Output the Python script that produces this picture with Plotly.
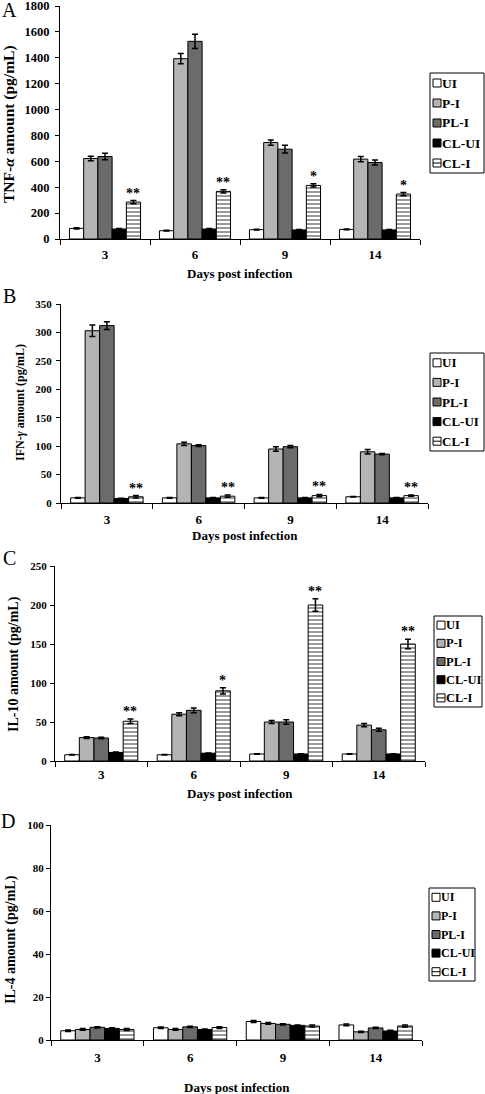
import plotly.graph_objects as go

W, H = 485, 1094
FONT = "Liberation Serif"

days = ["3", "6", "9", "14"]
groups = ["UI", "P-I", "PL-I", "CL-UI", "CL-I"]

# ---- Panel A: TNF-alpha (pg/mL)
tnf_UI = [82, 64, 72, 74]
tnf_PI = [622, 1393, 745, 617]
tnf_PLI = [637, 1527, 694, 591]
tnf_CLUI = [77, 77, 70, 70]
tnf_CLI = [285, 368, 414, 347]
tnf_UI_err = [4, 3, 3, 3]
tnf_PI_err = [18, 40, 20, 20]
tnf_PLI_err = [25, 55, 30, 20]
tnf_CLUI_err = [4, 4, 3, 3]
tnf_CLI_err = [12, 12, 12, 12]
tnf_sig = ["**", "**", "*", "*"]

# ---- Panel B: IFN-gamma (pg/mL)
ifn_UI = [9, 9, 9, 11]
ifn_PI = [303, 104, 95, 90]
ifn_PLI = [312, 101, 99, 86]
ifn_CLUI = [8, 9, 9, 9]
ifn_CLI = [11, 12, 13, 13]
ifn_UI_err = [0.5, 0.5, 0.5, 0.5]
ifn_PI_err = [10, 3, 4, 4]
ifn_PLI_err = [7, 1.5, 2, 1]
ifn_CLUI_err = [0.5, 0.5, 0.5, 0.5]
ifn_CLI_err = [2, 2, 2, 1]
ifn_sig = ["**", "**", "**", "**"]

# ---- Panel C: IL-10 (pg/mL)
il10_UI = [8, 8, 9, 9]
il10_PI = [30, 60, 50, 46]
il10_PLI = [29.5, 65, 50, 40]
il10_CLUI = [11, 10, 9, 9]
il10_CLI = [51, 90, 200, 150]
il10_UI_err = [0.4, 0.4, 0.4, 0.4]
il10_PI_err = [1, 2, 2, 2]
il10_PLI_err = [1, 3, 3, 2]
il10_CLUI_err = [0.5, 0.4, 0.4, 0.4]
il10_CLI_err = [3, 4, 8, 6]
il10_sig = ["**", "*", "**", "**"]

# ---- Panel D: IL-4 (pg/mL)
il4_UI = [4.3, 5.7, 8.6, 7.0]
il4_PI = [4.9, 4.9, 7.7, 3.8]
il4_PLI = [5.9, 6.1, 7.3, 5.6]
il4_CLUI = [5.4, 4.9, 6.8, 4.2]
il4_CLI = [4.9, 5.8, 6.5, 6.5]
il4_UI_err = [0.3, 0.3, 0.5, 0.4]
il4_PI_err = [0.4, 0.4, 0.4, 0.3]
il4_PLI_err = [0.3, 0.3, 0.3, 0.3]
il4_CLUI_err = [0.3, 0.2, 0.2, 0.3]
il4_CLI_err = [0.5, 0.4, 0.5, 0.5]
il4_sig = ["", "", "", ""]

panels = [
    dict(letter="A", ytitle="TNF-<i>α</i> amount (pg/mL)", ymax=1800, dtick=200,
         vals=[tnf_UI, tnf_PI, tnf_PLI, tnf_CLUI, tnf_CLI],
         errs=[tnf_UI_err, tnf_PI_err, tnf_PLI_err, tnf_CLUI_err, tnf_CLI_err],
         sig=tnf_sig,
         box=(60, 6, 420, 239), tfs=12.5, ytfs=15.5, ytx=9, yty=124,
         xso=3, yso=3,
         xtitle_y=273, letter_xy=(9, 10), leg=(430, 73, 484, 173), lfs=13.5),
    dict(letter="B", ytitle="IFN-<i>γ</i> amount (pg/mL)", ymax=350, dtick=50,
         vals=[ifn_UI, ifn_PI, ifn_PLI, ifn_CLUI, ifn_CLI],
         errs=[ifn_UI_err, ifn_PI_err, ifn_PLI_err, ifn_CLUI_err, ifn_CLI_err],
         sig=ifn_sig,
         box=(61, 304, 428, 503), tfs=11, ytfs=12, ytx=20, yty=403,
         xso=4, yso=2,
         xtitle_y=536, letter_xy=(9, 296), leg=(430, 353, 484, 451), lfs=13),
    dict(letter="C", ytitle="IL-10 amount (pg/mL)", ymax=250, dtick=50,
         vals=[il10_UI, il10_PI, il10_PLI, il10_CLUI, il10_CLI],
         errs=[il10_UI_err, il10_PI_err, il10_PLI_err, il10_CLUI_err, il10_CLI_err],
         sig=il10_sig,
         box=(55, 566, 425, 761), tfs=11, ytfs=14, ytx=14, yty=664,
         xso=1, yso=1,
         xtitle_y=793, letter_xy=(9, 558), leg=(434, 616, 482, 707), lfs=12.5),
    dict(letter="D", ytitle="IL-4 amount (pg/mL)", ymax=100, dtick=20,
         vals=[il4_UI, il4_PI, il4_PLI, il4_CLUI, il4_CLI],
         errs=[il4_UI_err, il4_PI_err, il4_PLI_err, il4_CLUI_err, il4_CLI_err],
         sig=il4_sig,
         box=(51, 825, 422, 1040), tfs=11, ytfs=14, ytx=11, yty=940,
         xso=5, yso=0,
         xtitle_y=1087, letter_xy=(8, 821), leg=(429, 888, 475, 981), lfs=12),
]

fills = ["white", "#b4b4b4", "#6b6b6b", "black", "white"]
BARGAP = 0.21

fig = go.Figure()
annotations = []
shapes = []

for k, p in enumerate(panels):
    sfx = "" if k == 0 else str(k + 1)
    xa, ya = "x" + sfx, "y" + sfx
    x0, ytop, x1, ybot = p["box"]
    for g, fill, v, e in zip(groups, fills, p["vals"], p["errs"]):
        marker = dict(color=fill, line=dict(color="black", width=1))
        if g == "CL-I":
            marker["pattern"] = dict(shape="-", fgcolor="black", bgcolor="white",
                                     size=4, solidity=0.4, fillmode="overlay")
        fig.add_trace(go.Bar(
            x=days, y=v, name=g, marker=marker, showlegend=False,
            error_y=dict(type="data", array=e, color="black", thickness=1.5, width=3),
            xaxis=xa, yaxis=ya))
    xdom = [x0 / W, x1 / W]
    ydom = [1 - ybot / H, 1 - ytop / H]
    fig.update_layout(**{
        ("xaxis" + sfx): dict(
            domain=xdom, anchor=ya, type="category", categoryorder="array",
            categoryarray=days, range=[-0.5, len(days) - 0.5], autorange=False,
            showline=True, linecolor="black", linewidth=1,
            ticks="outside", tickson="boundaries", ticklen=5, tickcolor="black",
            tickwidth=1, showgrid=False, automargin=False, fixedrange=True,
            ticklabelstandoff=p["xso"],
            tickfont=dict(family=FONT, size=13, color="black", weight="bold")),
        ("yaxis" + sfx): dict(
            domain=ydom, anchor=xa, range=[0, p["ymax"]], autorange=False,
            dtick=p["dtick"],
            showline=True, linecolor="black", linewidth=1, ticks="outside",
            ticklen=4, tickcolor="black", tickwidth=1, showgrid=False,
            zeroline=False, automargin=False, fixedrange=True,
            ticklabeloverflow="allow", ticklabelstandoff=p["yso"],
            tickfont=dict(family=FONT, size=p["tfs"], color="black", weight="bold")),
    })
    # significance stars above CL-I bars
    barw = (x1 - x0) / len(days) * (1 - BARGAP) / len(groups)
    shift = 2 * barw
    for i, (v, e, s) in enumerate(zip(p["vals"][4], p["errs"][4], p["sig"])):
        if s:
            annotations.append(dict(
                x=i, y=v + e, xref=xa, yref=ya, xshift=shift, yshift=-2,
                yanchor="bottom", showarrow=False, text=s,
                font=dict(family=FONT, size=14, color="black", weight="bold")))
    # y title
    annotations.append(dict(
        x=p["ytx"] / W, y=1 - p["yty"] / H, xref="paper", yref="paper",
        textangle=-90, showarrow=False, text=p["ytitle"],
        xanchor="center", yanchor="middle",
        font=dict(family=FONT, size=p["ytfs"], color="black", weight="bold")))
    # x title
    annotations.append(dict(
        x=(x0 + x1) / 2 / W, y=1 - p["xtitle_y"] / H, xref="paper", yref="paper",
        showarrow=False, text="Days post infection", xanchor="center", yanchor="middle",
        font=dict(family=FONT, size=13, color="black", weight="bold")))
    # panel letter
    lx, ly = p["letter_xy"]
    annotations.append(dict(
        x=lx / W, y=1 - ly / H, xref="paper", yref="paper", showarrow=False,
        text=p["letter"], xanchor="center", yanchor="middle",
        font=dict(family=FONT, size=20, color="black")))
    # legend box
    lx0, ly0, lx1, ly1 = p["leg"]
    shapes.append(dict(type="rect", xref="paper", yref="paper",
                       x0=lx0 / W, x1=lx1 / W, y0=1 - ly1 / H, y1=1 - ly0 / H,
                       line=dict(color="black", width=1), fillcolor="white"))
    step = (ly1 - ly0) / len(groups)
    for i, (g, fill) in enumerate(zip(groups, fills)):
        cy = ly0 + (i + 0.5) * step
        sx0, sx1 = lx0 + 3, lx0 + 11
        shapes.append(dict(type="rect", xref="paper", yref="paper",
                           x0=sx0 / W, x1=sx1 / W, y0=1 - (cy + 4) / H, y1=1 - (cy - 4) / H,
                           line=dict(color="black", width=1), fillcolor=fill))
        if g == "CL-I":
            shapes.append(dict(type="line", xref="paper", yref="paper",
                               x0=sx0 / W, x1=sx1 / W, y0=1 - cy / H, y1=1 - cy / H,
                               line=dict(color="black", width=1)))
        annotations.append(dict(
            x=(lx0 + 11) / W, y=1 - cy / H, xref="paper", yref="paper",
            showarrow=False, text=g, xanchor="left", yanchor="middle", borderpad=0,
            font=dict(family=FONT, size=p["lfs"], color="black", weight="bold")))

fig.update_layout(
    width=W, height=H, template="none",
    margin=dict(l=0, r=0, t=0, b=0, pad=0),
    barmode="group", bargap=BARGAP, bargroupgap=0,
    paper_bgcolor="white", plot_bgcolor="white",
    font=dict(family=FONT, color="black"),
    showlegend=False,
    annotations=annotations, shapes=shapes,
)

fig.write_html(
    "out.html",
    config={"displayModeBar": False},
    post_script="document.body.style.margin='0';document.body.style.overflow='hidden';",
)
